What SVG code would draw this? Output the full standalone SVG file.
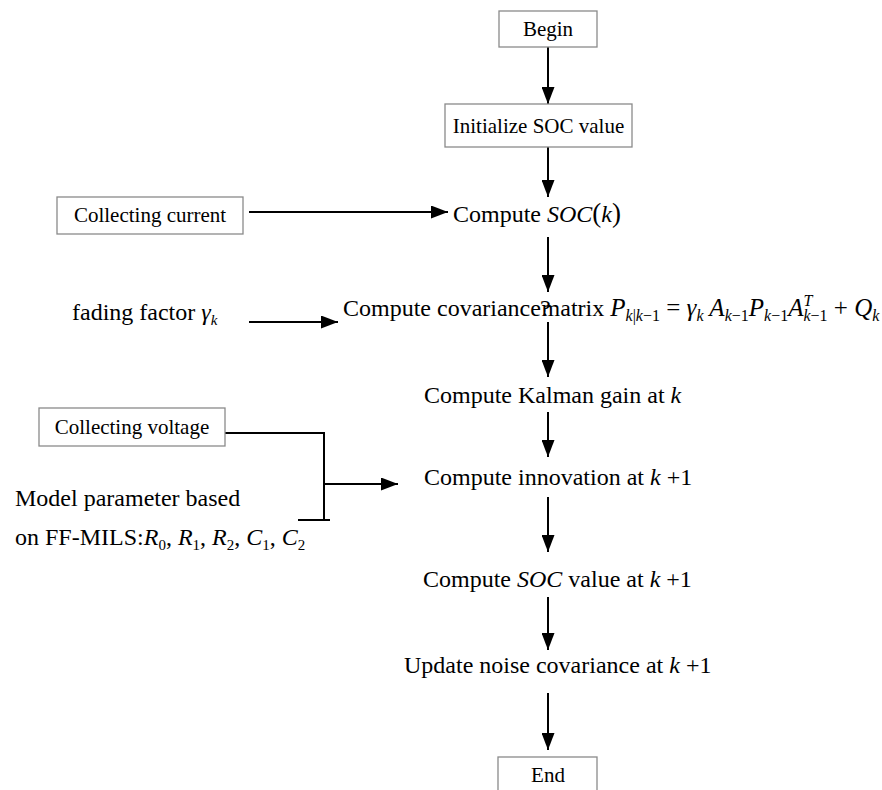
<svg xmlns="http://www.w3.org/2000/svg" width="882" height="790" viewBox="0 0 882 790">
<style>
text{font-family:"Liberation Serif","Times New Roman",serif;fill:#000}
.b{font-size:21px}
.m{font-size:24px}
.f{font-size:25px}
.it{font-style:italic}
.sub{font-size:15px}
.fs{font-size:16px}
.box{fill:#fff;stroke:#8a8a8a;stroke-width:1.3}
.ln{stroke:#000;stroke-width:2;fill:none}
</style>
<defs>
<marker id="ah" markerUnits="userSpaceOnUse" markerWidth="17" markerHeight="13" refX="17" refY="6.5" orient="auto">
<path d="M0,0 L17,6.5 L0,13 Z" fill="#000"/>
</marker>
</defs>
<rect width="882" height="790" fill="#fff"/>
<g id="connectors">
<line class="ln" x1="548" y1="47" x2="548" y2="104" marker-end="url(#ah)"/>
<line class="ln" x1="548" y1="147" x2="548" y2="197" marker-end="url(#ah)"/>
<line class="ln" x1="249" y1="212" x2="448" y2="212" marker-end="url(#ah)"/>
<line class="ln" x1="548" y1="237" x2="548" y2="292" marker-end="url(#ah)"/>
<line class="ln" x1="249" y1="322" x2="338" y2="322" marker-end="url(#ah)"/>
<line class="ln" x1="548" y1="322" x2="548" y2="377" marker-end="url(#ah)"/>
<line class="ln" x1="548" y1="412" x2="548" y2="457" marker-end="url(#ah)"/>
<polyline class="ln" points="225,433 324,433 324,520"/>
<line class="ln" x1="298" y1="520" x2="330" y2="520"/>
<line class="ln" x1="324" y1="484" x2="398" y2="484" marker-end="url(#ah)"/>
<line class="ln" x1="548" y1="497" x2="548" y2="552" marker-end="url(#ah)"/>
<line class="ln" x1="548" y1="597" x2="548" y2="650" marker-end="url(#ah)"/>
<line class="ln" x1="548" y1="693" x2="548" y2="750" marker-end="url(#ah)"/>
</g>
<g id="begin">
<rect class="box" x="499" y="11" width="98" height="36"/>
<text class="b" x="548" y="36" text-anchor="middle">Begin</text>
</g>
<g id="init">
<rect class="box" x="445" y="104" width="187" height="43"/>
<text class="b" x="538.5" y="133" text-anchor="middle">Initialize SOC value</text>
</g>
<g id="current">
<rect class="box" x="57" y="197" width="186" height="37"/>
<text class="b" x="150" y="222" text-anchor="middle">Collecting current</text>
</g>
<g id="soc-k">
<text class="m" x="453" y="222">Compute <tspan class="it">SOC</tspan><tspan font-size="27">(</tspan><tspan class="it">k</tspan><tspan font-size="27">)</tspan></text>
</g>
<g id="fading">
<text class="m" x="72" y="320">fading factor <tspan class="it">γ</tspan><tspan class="sub it" dy="5">k</tspan></text>
</g>
<g id="covariance">
<text class="m" x="343" y="316">Compute covariance<tspan dx="-1">?</tspan><tspan dx="-9">matrix </tspan><tspan class="it f">P</tspan><tspan class="fs" dy="5"><tspan class="it">k</tspan>|<tspan class="it">k</tspan>−1</tspan><tspan class="f" dy="-5"> = </tspan><tspan class="it f">γ</tspan><tspan class="fs it" dy="5">k</tspan><tspan class="it f" dy="-5"> A</tspan><tspan class="fs" dy="5"><tspan class="it">k</tspan>−1</tspan><tspan class="it f" dy="-5">P</tspan><tspan class="fs" dy="5"><tspan class="it">k</tspan>−1</tspan><tspan class="it f" dy="-5">A</tspan><tspan class="fs it" dy="-10">T</tspan><tspan class="fs" dx="-9" dy="15"><tspan class="it">k</tspan>−1</tspan><tspan class="f" dy="-5"> + </tspan><tspan class="it f">Q</tspan><tspan class="fs it" dy="5">k</tspan></text>
</g>
<g id="kalman">
<text class="m" x="424" y="403">Compute Kalman gain at <tspan class="it">k</tspan></text>
</g>
<g id="voltage">
<rect class="box" x="39" y="408" width="186" height="38"/>
<text class="b" x="132" y="434" text-anchor="middle">Collecting voltage</text>
</g>
<g id="model">
<text class="m" x="15" y="506">Model parameter based</text>
<text class="m" x="15" y="545">on FF-MILS:<tspan class="it">R</tspan><tspan class="sub" dy="5">0</tspan><tspan dy="-5">, </tspan><tspan class="it">R</tspan><tspan class="sub" dy="5">1</tspan><tspan dy="-5">, </tspan><tspan class="it">R</tspan><tspan class="sub" dy="5">2</tspan><tspan dy="-5">, </tspan><tspan class="it">C</tspan><tspan class="sub" dy="5">1</tspan><tspan dy="-5">, </tspan><tspan class="it">C</tspan><tspan class="sub" dy="5">2</tspan></text>
</g>
<g id="innovation">
<text class="m" x="424" y="485">Compute innovation at <tspan class="it">k</tspan> +1</text>
</g>
<g id="soc-value">
<text class="m" x="423" y="587">Compute <tspan class="it">SOC</tspan> value at <tspan class="it">k</tspan> +1</text>
</g>
<g id="update">
<text class="m" x="404" y="673">Update noise covariance at <tspan class="it">k</tspan> +1</text>
</g>
<g id="end">
<rect class="box" x="498" y="757" width="99" height="40"/>
<text class="b" x="548" y="782" text-anchor="middle">End</text>
</g>
</svg>
